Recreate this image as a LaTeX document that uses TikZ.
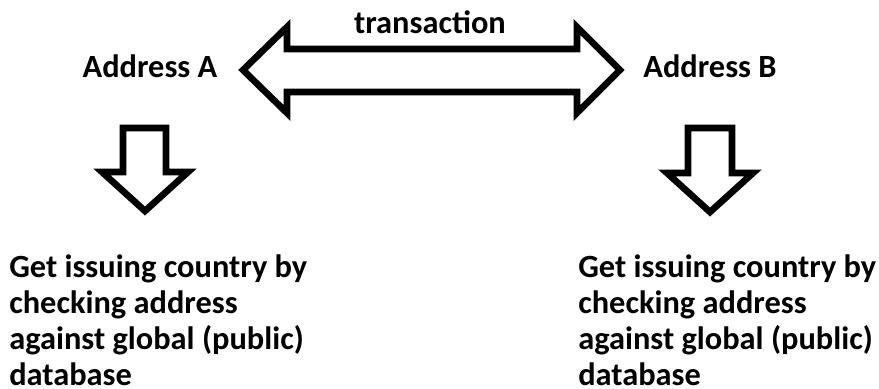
\documentclass[tikz,border=0pt]{standalone}
\usepackage{fontspec}
\setmainfont{Carlito}
\begin{document}
\begin{tikzpicture}[x=0.75pt,y=-0.75pt,
  lbl/.style={font=\bfseries\fontsize{24.3}{27}\selectfont, inner sep=0pt},
  % for a multi-line node the base anchor sits on the last line
  para/.style={lbl, align=left, anchor=base west},
  blockarrow/.style={draw=black, line width=5pt, line join=miter, fill=white}]
  \useasboundingbox (0,0) rectangle (879,389);

  % labels
  \node[lbl, anchor=base] (a) at (150,77) {Address A};
  \node[lbl, anchor=base] (b) at (710,77) {Address B};
  \node[lbl, anchor=base] (t) at (430,33) {transaction};

  % two-headed block arrow between the addresses
  \draw[blockarrow] (243,70) -- (287,27) -- (287,49) -- (577,49) -- (577,27)
    -- (620,70) -- (577,113) -- (577,92) -- (287,92) -- (287,113) -- cycle;

  % downward block arrows
  \draw[blockarrow] (123,128) -- (166,128) -- (166,172) -- (188,172) -- (145,211)
    -- (102,172) -- (123,172) -- cycle;
  \draw[blockarrow] (688,128) -- (732,128) -- (732,173) -- (753,173) -- (710,212)
    -- (667,173) -- (688,173) -- cycle;

  % lookup descriptions
  \node[para] (la) at (9,385) {Get issuing country by\\checking address\\against global (public)\\database};
  \node[para] (lb) at (578,385) {Get issuing country by\\checking address\\against global (public)\\database};
\end{tikzpicture}
\end{document}
